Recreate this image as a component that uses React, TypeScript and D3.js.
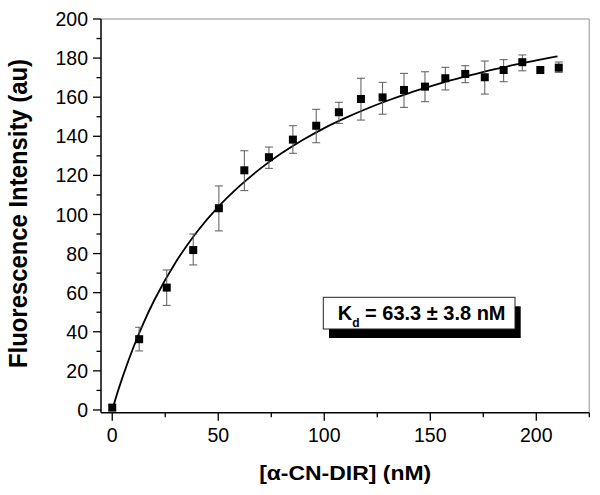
import React from "react";
import * as d3 from "d3";

const concX = [0, 12.7, 25.7, 38.2, 50.3, 62.3, 73.9, 85.2, 96.2, 106.9, 117.3, 127.5, 137.6, 147.5, 157.1, 166.5, 175.7, 184.6, 193.4, 201.9, 210.6];
const fluorY = [1.2, 36.2, 62.6, 81.8, 103.2, 122.6, 129.3, 138.3, 145.4, 152.3, 159.1, 159.9, 163.7, 165.4, 169.7, 171.9, 170.2, 173.9, 177.9, 173.9, 175.1];
const errLow: (number | null)[] = [null, 30.2, 53.5, 74.2, 91.6, 112.2, 123.6, 131.3, 136.7, 146.6, 148.3, 151.3, 154.8, 157.7, 163.7, 167.4, 161.6, 167.9, 173.5, null, 172.7];
const errHigh: (number | null)[] = [null, 42.3, 71.6, 90.0, 114.6, 132.6, 134.5, 145.4, 153.8, 157.4, 169.7, 167.6, 172.2, 173.0, 175.3, 176.1, 178.5, 179.2, 181.6, null, 178.0];

const fitX = [0, 2.5, 5, 10, 15, 20, 30, 40, 50, 60, 70, 80, 90, 100, 110, 120, 130, 140, 150, 160, 170, 180, 190, 200, 210];
const fitY = [0, 9.0, 17.2, 32.1, 45.1, 56.5, 75.7, 91.2, 103.9, 114.5, 123.6, 131.4, 138.2, 144.2, 149.4, 154.1, 158.3, 162.1, 165.5, 168.7, 171.5, 174.2, 176.6, 178.8, 180.9];

const yMajorTicks = [0, 20, 40, 60, 80, 100, 120, 140, 160, 180, 200];
const yMinorTicks = [10, 30, 50, 70, 90, 110, 130, 150, 170, 190];
const xMajorTicks = [0, 50, 100, 150, 200];
const xMinorTicks = [25, 75, 125, 175, 225];

const xLabel = "[α-CN-DIR] (nM)";
const yLabel = "Fluorescence Intensity (au)";

export default function App() {
  const left = 101, right = 589.3, top = 19, bottom = 412.7;
  const x = d3.scaleLinear().domain([-5.3, 225]).range([left, right]);
  const y = d3.scaleLinear().domain([-1.4, 200]).range([bottom, top]);
  const font = "'Liberation Sans', Arial, Helvetica, sans-serif";

  const line = d3.line<number>()
    .x((_, i) => x(fitX[i]))
    .y((d) => y(d))
    .curve(d3.curveMonotoneX);

  const ms = 8;
  const cap = 4;

  return (
    <svg width={600} height={495} style={{ position: "absolute", left: 0, top: 0, background: "#fff" }} fontFamily={font}>
      <rect x={0} y={0} width={600} height={495} fill="#fff" />
      <line x1={left} x2={right} y1={top} y2={top} stroke="#b4b4b4" strokeWidth={1.5} />
      <line x1={right} x2={right} y1={top} y2={bottom} stroke="#b4b4b4" strokeWidth={1.5} />

      <path d={line(fitY) || ""} fill="none" stroke="#000" strokeWidth={1.8} />

      {concX.map((cx, i) => {
        const lo = errLow[i], hi = errHigh[i];
        if (lo == null || hi == null) return null;
        const px = x(cx);
        return (
          <g key={"e" + i} stroke="#5a5a5a" strokeWidth={1}>
            <line x1={px} x2={px} y1={y(lo)} y2={y(hi)} />
            <line x1={px - cap} x2={px + cap} y1={y(lo)} y2={y(lo)} />
            <line x1={px - cap} x2={px + cap} y1={y(hi)} y2={y(hi)} />
          </g>
        );
      })}

      {concX.map((cx, i) => (
        <rect key={"p" + i} x={x(cx) - ms / 2} y={y(fluorY[i]) - ms / 2} width={ms} height={ms} fill="#000" />
      ))}

      <line x1={left} x2={left} y1={top} y2={bottom} stroke="#000" strokeWidth={1.5} />
      <line x1={left} x2={right} y1={bottom} y2={bottom} stroke="#000" strokeWidth={1.5} />

      {yMajorTicks.map((t) => (
        <g key={"ym" + t}>
          <line x1={left - 8} x2={left} y1={y(t)} y2={y(t)} stroke="#000" strokeWidth={1.3} />
          <text x={88} y={y(t)} dy="0.36em" textAnchor="end" fontSize={19.5} fill="#000">{t}</text>
        </g>
      ))}
      {yMinorTicks.map((t) => (
        <line key={"yn" + t} x1={left - 4.5} x2={left} y1={y(t)} y2={y(t)} stroke="#000" strokeWidth={1.3} />
      ))}
      {xMajorTicks.map((t) => (
        <g key={"xm" + t}>
          <line x1={x(t)} x2={x(t)} y1={bottom} y2={bottom + 8} stroke="#000" strokeWidth={1.3} />
          <text x={x(t)} y={441.5} textAnchor="middle" fontSize={19.5} fill="#000">{t}</text>
        </g>
      ))}
      {xMinorTicks.map((t) => (
        <line key={"xn" + t} x1={x(t)} x2={x(t)} y1={bottom} y2={bottom + 4.5} stroke="#000" strokeWidth={1.3} />
      ))}

      <text x={(left + right) / 2} y={480} textAnchor="middle" fontSize={21} fontWeight="bold" fill="#000"
        textLength={172} lengthAdjust="spacingAndGlyphs">{xLabel}</text>
      <text transform={`translate(27, ${(59 + 368) / 2}) rotate(-90)`} textAnchor="middle" fontSize={25.5} fontWeight="bold" fill="#000"
        textLength={309} lengthAdjust="spacingAndGlyphs">{yLabel}</text>

      <rect x={329} y={306.3} width={191.7} height={31.7} fill="#000" />
      <rect x={323.3} y={297.3} width={191.7} height={31.7} fill="#fff" stroke="#222" strokeWidth={1} />
      <text x={337.7} y={320} fontSize={20} fontWeight="bold" fill="#000">
        <tspan>K</tspan>
        <tspan fontSize={12} dy={7}>d</tspan>
        <tspan dy={-7}> = 63.3 ± 3.8 nM</tspan>
      </text>
    </svg>
  );
}
